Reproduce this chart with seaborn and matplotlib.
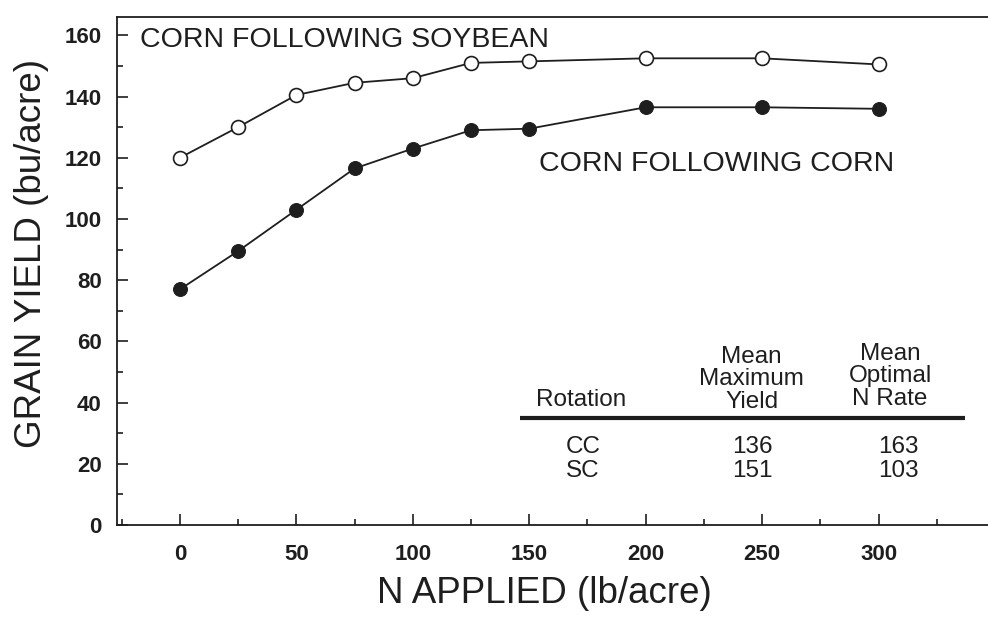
import matplotlib
matplotlib.use('Agg')
import matplotlib.pyplot as plt
import seaborn as sns
import pandas as pd
from matplotlib.ticker import MultipleLocator

# N rates (lb/acre) and grain yields (bu/acre)
n_applied = [0, 25, 50, 75, 100, 125, 150, 200, 250, 300]
yield_soy_corn = [120, 130, 140.5, 144.5, 146, 151, 151.5, 152.5, 152.5, 150.5]
yield_corn_corn = [77, 89.5, 103, 116.5, 123, 129, 129.5, 136.5, 136.5, 136]

# summary table
rotations = ['CC', 'SC']
max_yield = [136, 151]
opt_rate = [163, 103]

sns.set_style('ticks')
plt.rcParams['font.family'] = ['Liberation Sans', 'DejaVu Sans']

ink = '#1e1e1e'

df = pd.DataFrame({
    'N': n_applied * 2,
    'Yield': yield_soy_corn + yield_corn_corn,
    'Rotation': ['SC'] * len(n_applied) + ['CC'] * len(n_applied),
})

fig = plt.figure(figsize=(9.88, 6.17), dpi=100)
ax = fig.add_axes([117 / 988, 92 / 617, 871 / 988, 508 / 617])

sns.lineplot(data=df[df['Rotation'] == 'SC'], x='N', y='Yield', ax=ax,
             color=ink, lw=1.3, marker='o', markersize=10,
             markerfacecolor='white', markeredgecolor=ink, markeredgewidth=1.2)
sns.lineplot(data=df[df['Rotation'] == 'CC'], x='N', y='Yield', ax=ax,
             color=ink, lw=1.3, marker='o', markersize=10,
             markerfacecolor=ink, markeredgecolor=ink)

ax.set_xlim(-27, 347)
ax.set_ylim(0, 166)
ax.xaxis.set_major_locator(MultipleLocator(50))
ax.xaxis.set_minor_locator(MultipleLocator(25))
ax.yaxis.set_major_locator(MultipleLocator(20))
ax.yaxis.set_minor_locator(MultipleLocator(10))
ax.set_xticks(range(0, 301, 50))
ax.tick_params(which='both', direction='in', colors=ink, width=1.2)
ax.tick_params(which='major', length=8)
ax.tick_params(which='minor', length=4)
ax.tick_params(axis='y', pad=11, labelsize=16)
ax.tick_params(axis='x', pad=14, labelsize=16)
for lab in ax.get_xticklabels() + ax.get_yticklabels():
    lab.set_fontweight('bold')
    lab.set_color(ink)

ax.spines['right'].set_visible(False)
for s in ['left', 'top', 'bottom']:
    ax.spines[s].set_color(ink)
    ax.spines[s].set_linewidth(1.3)

ax.set_xlabel('N APPLIED (lb/acre)', fontsize=26.5, color=ink)
ax.set_ylabel('GRAIN YIELD (bu/acre)', fontsize=26.5, color=ink)
ax.xaxis.set_label_coords(0.491, -0.101)
ax.yaxis.set_label_coords(-0.078, 0.535)

ax.text(-17, 158.5, 'CORN FOLLOWING SOYBEAN', fontsize=20.5, color=ink,
        va='center', ha='left')
ax.text(154, 118, 'CORN FOLLOWING CORN', fontsize=20.5, color=ink,
        va='center', ha='left')

# inset table
tfs = 17.5
ax.text(172.5, 37.3, 'Rotation', fontsize=tfs, color=ink, ha='center', va='bottom')
ax.text(245.5, 36.5, 'Mean\nMaximum\nYield', fontsize=tfs, color=ink,
        ha='center', va='bottom', linespacing=1.05)
ax.text(305, 37.5, 'Mean\nOptimal\nN Rate', fontsize=tfs, color=ink,
        ha='center', va='bottom', linespacing=1.05)
ax.plot([146, 337], [35, 35], color=ink, lw=3, solid_capstyle='butt')
row_y = [25.5, 17.7]
for r, my, orr, yy in zip(rotations, max_yield, opt_rate, row_y):
    ax.text(173, yy, r, fontsize=tfs, color=ink, ha='center', va='center')
    ax.text(246, yy, str(my), fontsize=tfs, color=ink, ha='center', va='center')
    ax.text(308.5, yy, str(orr), fontsize=tfs, color=ink, ha='center', va='center')

fig.savefig('out.png', dpi=100)
